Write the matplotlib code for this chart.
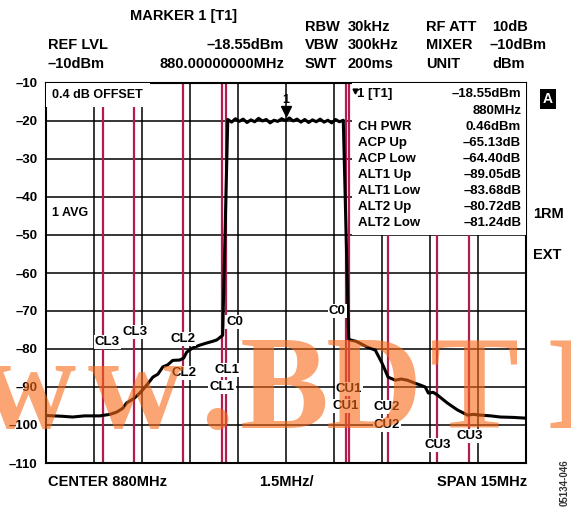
import numpy as np
import matplotlib.pyplot as plt
from matplotlib.patches import Rectangle

plt.rcParams['font.family'] = ['Liberation Sans', 'DejaVu Sans']
plt.rcParams['font.weight'] = 'bold'

W, H = 571, 514
RED = '#b01c52'

# spectrum trace (MHz offset from 880 MHz, dBm)
left_f = [-7.5, -7.0, -6.67, -6.3, -5.82, -5.5, -5.29, -5.1, -4.98, -4.75, -4.57,
          -4.35, -4.16, -4.0, -3.85, -3.7, -3.54, -3.32, -3.2, -3.1, -2.91, -2.7,
          -2.47, -2.3, -2.16, -2.04, -1.98]
left_db = [-97.5, -97.7, -97.9, -97.6, -97.6, -97.2, -96.6, -95.6, -94.2, -93.0, -91.6,
           -89.5, -87.4, -86.6, -84.7, -84.2, -83.0, -82.9, -82.4, -80.8, -79.7, -79.0,
           -78.4, -78.0, -77.6, -76.8, -76.4]
top_f = np.linspace(-1.82, 1.79, 31)
top_db = [-19.6, -20.3, -19.4, -20.1, -19.5, -20.4, -19.7, -20.2, -19.3, -20.0, -19.6,
          -20.5, -19.8, -20.1, -19.4, -19.9, -19.2, -20.0, -19.5, -20.3, -19.6, -20.4,
          -19.7, -20.2, -19.5, -20.3, -19.8, -20.5, -19.6, -20.2, -19.8]
right_f = [1.96, 2.0, 2.2, 2.54, 2.79, 3.0, 3.19, 3.41, 3.6, 3.79, 4.0, 4.2, 4.35, 4.45,
           4.6, 4.73, 5.04, 5.35, 5.67, 5.85, 6.08, 6.4, 6.7, 7.1, 7.5]
right_db = [-77.4, -77.6, -78.0, -79.5, -80.3, -83.7, -87.4, -88.2, -87.9, -88.2, -88.9,
            -89.5, -90.0, -91.6, -91.4, -92.1, -94.2, -96.0, -97.4, -97.2, -97.4, -97.6,
            -97.9, -98.0, -98.2]
trace_f = list(left_f) + list(top_f) + list(right_f)
trace_db = list(left_db) + list(top_db) + list(right_db)

# channel limit lines (MHz)
lines_full = [-3.22, -2.0, -1.875, 1.87, 1.97]
lines_low_left = [-5.72, -4.75]       # start below the offset label
lines_low_right = [3.18, 4.71, 5.72]  # start below the marker panel

# channel labels
chan_labels = ['CL3', 'CL3', 'CL2', 'CL2', 'C0', 'CL1', 'CL1',
               'C0', 'CU1', 'CU1', 'CU2', 'CU2', 'CU3', 'CU3']
chan_x = [-5.58, -4.73, -3.23, -3.2, -1.6, -1.85, -2.0,
          1.6, 1.97, 1.88, 3.16, 3.16, 4.73, 5.73]
chan_y = [-78.2, -75.5, -77.4, -86.3, -72.9, -85.5, -90.0,
          -70.0, -90.5, -95.0, -95.3, -100.0, -105.3, -102.9]

yticks = list(range(-10, -111, -10))

panel_names = ['CH PWR', 'ACP Up', 'ACP Low', 'ALT1 Up', 'ALT1 Low', 'ALT2 Up', 'ALT2 Low']
panel_vals = ['0.46dBm', '\u201365.13dB', '\u201364.40dB', '\u201389.05dB',
              '\u201383.68dB', '\u201380.72dB', '\u201381.24dB']

fig = plt.figure(figsize=(W / 100, H / 100), dpi=100)
ax = fig.add_axes([46 / W, (H - 463) / H, 480 / W, 380 / H])
ax.set_xlim(-7.5, 7.5)
ax.set_ylim(-110, -10)
ax.set_xticks(np.arange(-7.5, 7.6, 1.5))
ax.set_yticks(yticks)
ax.set_xticklabels([])
ax.set_yticklabels(['\u2013%d' % abs(v) for v in yticks], fontsize=9.5, fontweight='bold')
ax.tick_params(length=0, pad=6)
ax.grid(True, color='black', lw=1.1)
for s in ax.spines.values():
    s.set_linewidth(1.5)

for f in lines_full + lines_low_left + lines_low_right:
    ax.axvline(f, color=RED, lw=1.6, zorder=2)

# white areas over the grid
ax.add_patch(Rectangle((-7.5, -16.3), 3.25, 6.3, fc='white', ec='none', zorder=3))
ax.add_patch(Rectangle((2.06, -50), 5.44, 40, fc='white', ec='none', zorder=3))
ax.text(-7.3, -13.2, '0.4 dB OFFSET', fontsize=9, va='center', ha='left', zorder=4)
ax.text(-7.3, -44.2, '1 AVG', fontsize=9, va='center', ha='left', zorder=4,
        bbox=dict(fc='white', ec='none', pad=1))

ax.plot(trace_f, trace_db, color='black', lw=2.2, zorder=5)

# marker 1
ax.plot([0], [-17.3], marker='v', color='black', ms=7, zorder=6)
ax.text(0, -14.4, '1', fontsize=9, ha='center', va='center', zorder=6)

for lab, x, y in zip(chan_labels, chan_x, chan_y):
    ax.text(x, y, lab, fontsize=9.5, ha='center', va='center', zorder=6,
            bbox=dict(fc='white', ec='none', pad=0.8))

# marker panel
ax.plot([2.16], [-12.2], marker='v', color='black', ms=3.5, zorder=6)
ax.text(2.22, -13.0, '1 [T1]', fontsize=9.5, ha='left', va='center', zorder=6)
ax.text(7.35, -13.0, '\u201318.55dBm', fontsize=9.5, ha='right', va='center', zorder=6)
ax.text(7.35, -17.4, '880MHz', fontsize=9.5, ha='right', va='center', zorder=6)
for i, (n, v) in enumerate(zip(panel_names, panel_vals)):
    yy = -21.6 - 4.2 * i
    ax.text(2.25, yy, n, fontsize=9.5, ha='left', va='center', zorder=6)
    ax.text(7.35, yy, v, fontsize=9.5, ha='right', va='center', zorder=6)


def ftext(x, y, s, **kw):
    kw.setdefault('fontsize', 10.5)
    kw.setdefault('va', 'center')
    fig.text(x / W, 1 - y / H, s, fontweight='bold', **kw)


ftext(130, 16, 'MARKER 1 [T1]')
ftext(48, 45, 'REF LVL')
ftext(48, 64, '\u201310dBm')
ftext(284, 45, '\u201318.55dBm', ha='right')
ftext(284, 64, '880.00000000MHz', ha='right')
ftext(305, 27, 'RBW')
ftext(348, 27, '30kHz')
ftext(305, 45, 'VBW')
ftext(348, 45, '300kHz')
ftext(305, 64, 'SWT')
ftext(348, 64, '200ms')
ftext(426, 27, 'RF ATT')
ftext(492, 27, '10dB')
ftext(426, 45, 'MIXER')
ftext(489, 45, '\u201310dBm')
ftext(426, 64, 'UNIT')
ftext(492, 64, 'dBm')

ftext(48, 482, 'CENTER 880MHz')
ftext(286, 482, '1.5MHz/', ha='center')
ftext(527, 482, 'SPAN 15MHz', ha='right')
ftext(565, 483, '05134-046', fontsize=7, ha='center', rotation=90, color='#333333')

ftext(548, 99, 'A', fontsize=10, ha='center', color='white',
      bbox=dict(fc='black', ec='none', pad=2.5))
ftext(533, 214, '1RM')
ftext(533, 255, 'EXT')

# watermark
wm = ['w', 'w', '.', 'B', 'D', 'T', 'I']
wm_x = [-20, 88, 200, 240, 326, 430, 546]
for ch, x in zip(wm, wm_x):
    fig.text(x / W, 1 - 428 / H, ch, fontsize=96, family='Liberation Serif',
             fontweight='bold', color='#f76916', alpha=0.6, ha='left', va='baseline',
             zorder=10)

fig.savefig('out.png', dpi=100)
